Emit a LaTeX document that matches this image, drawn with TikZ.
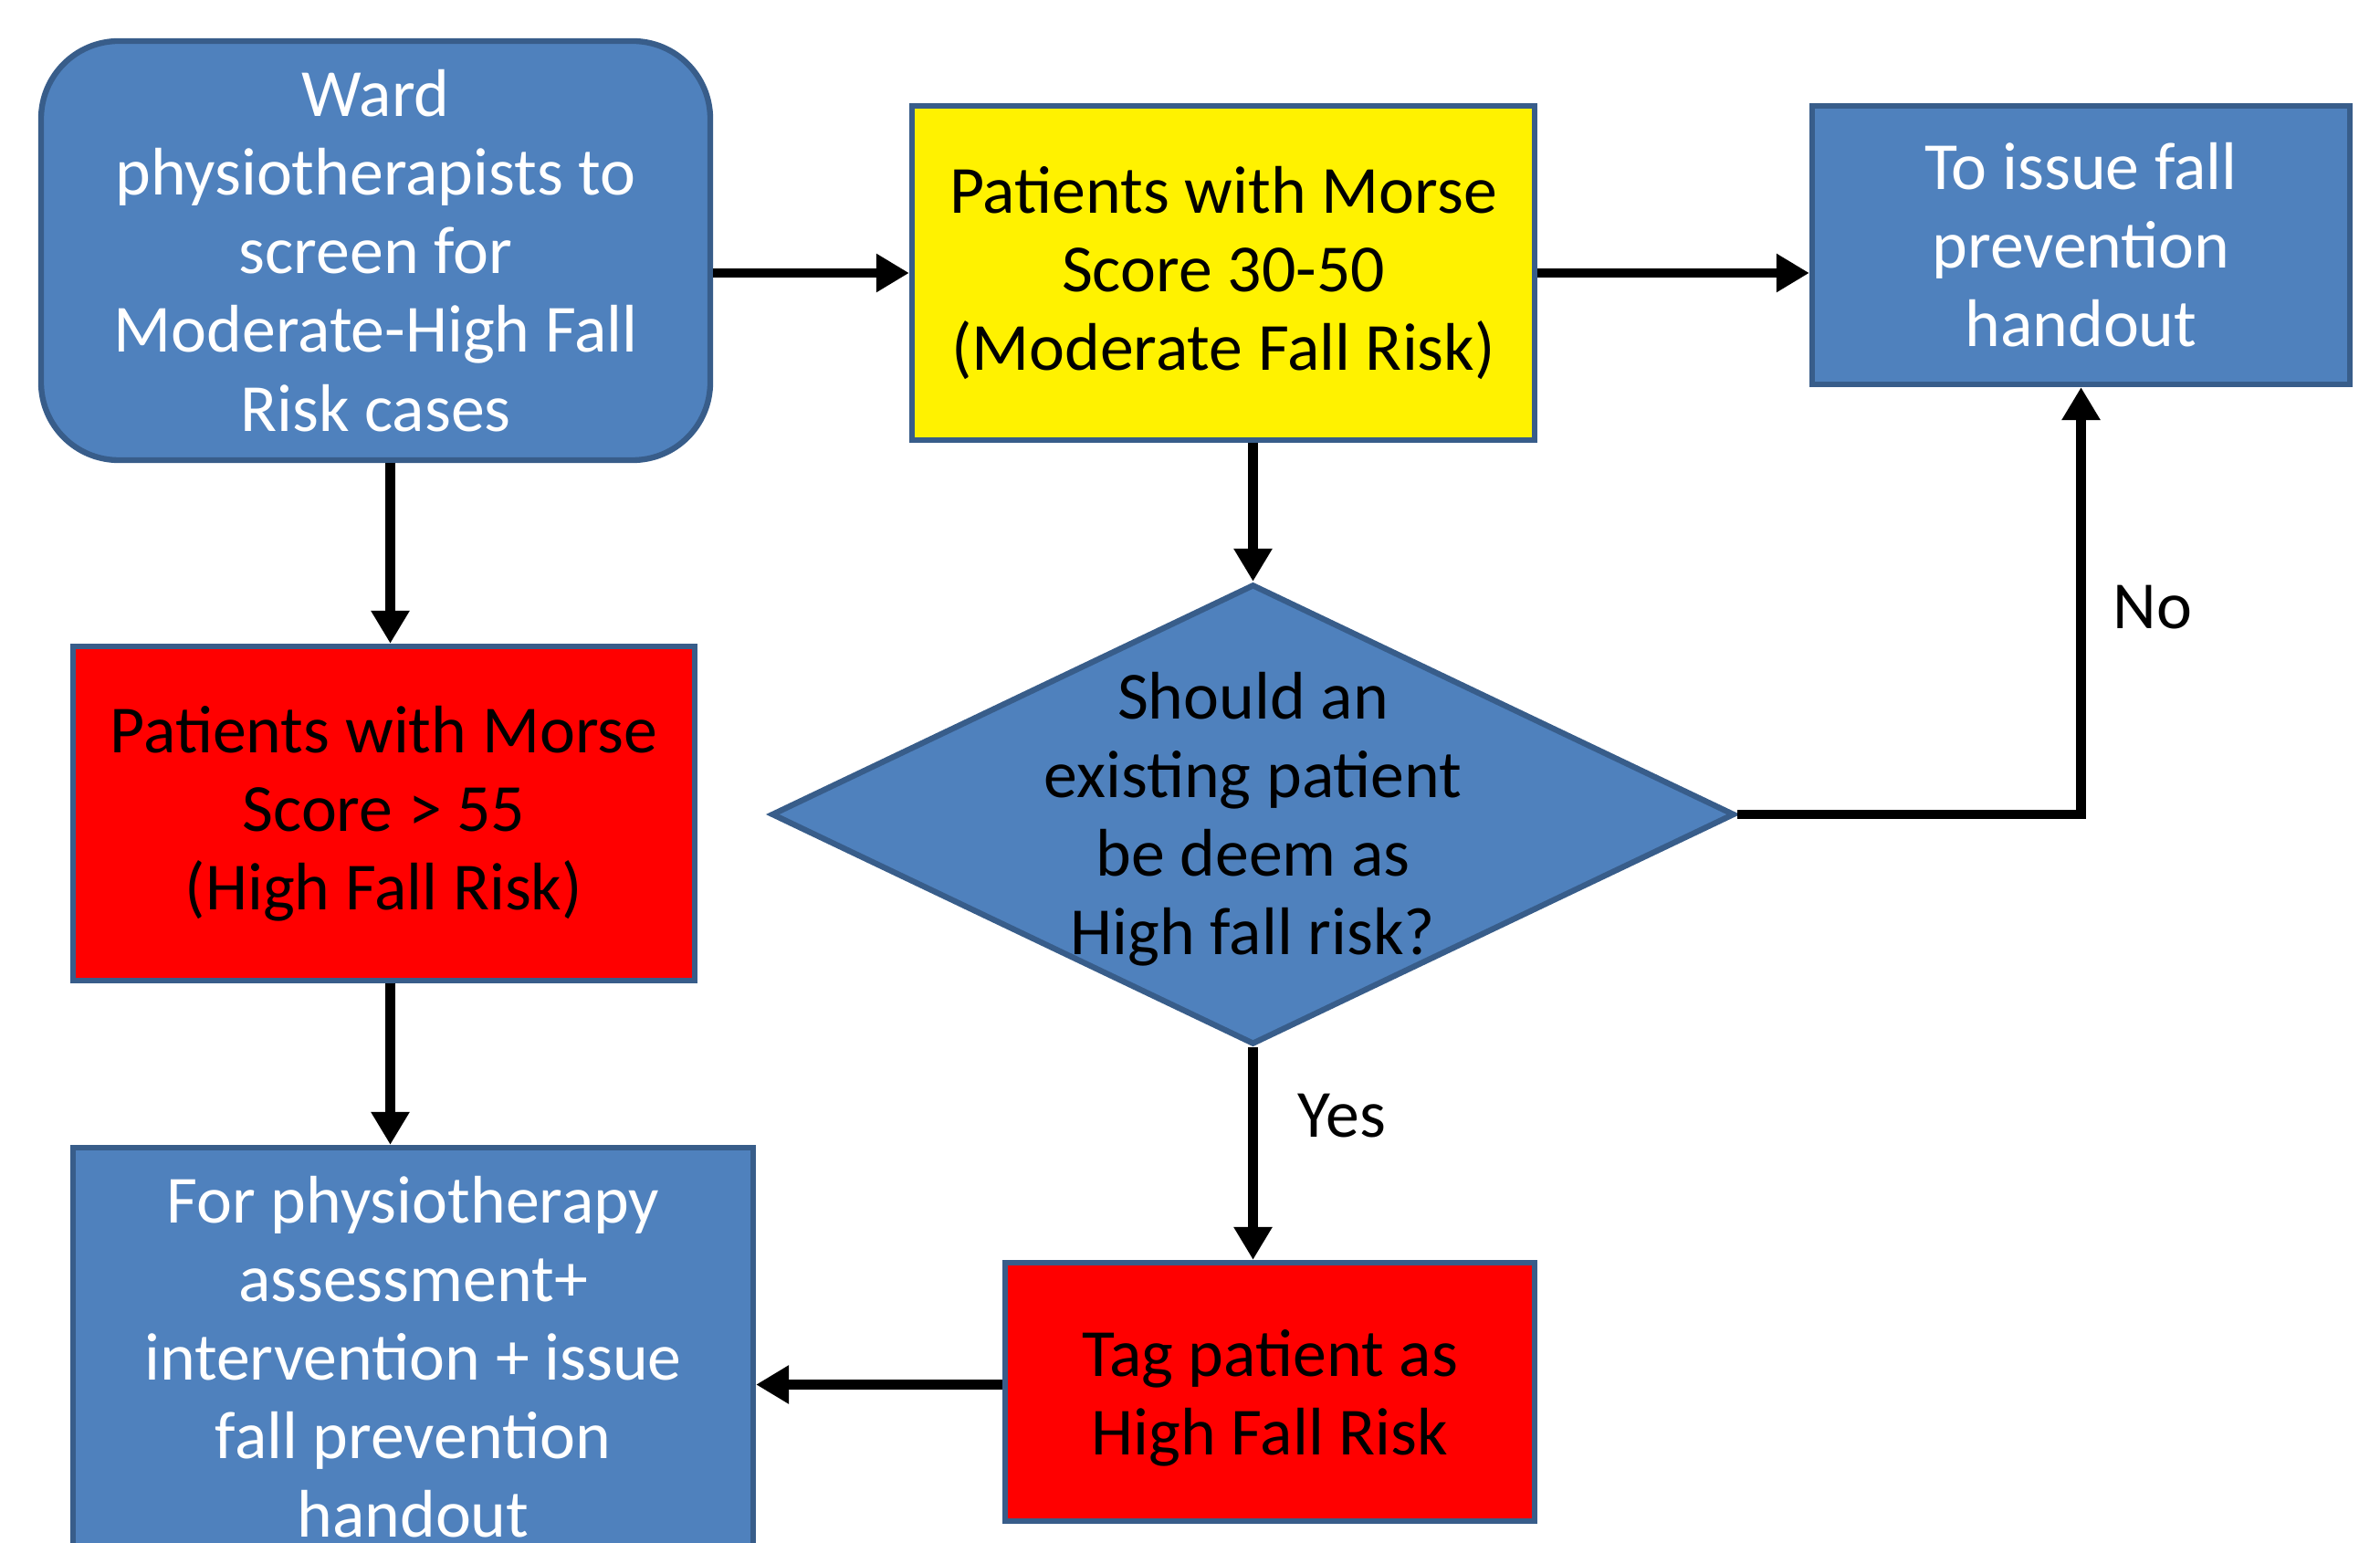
\documentclass[tikz,border=0pt]{standalone}
\usepackage{fontspec}
\setmainfont{Carlito}
\usetikzlibrary{arrows.meta,shapes.geometric}
\definecolor{officeblue}{HTML}{4F81BD}
\definecolor{officeedge}{HTML}{385D8A}
\tikzset{
every picture/.style={line width=3pt},
box/.style={draw=officeedge, line width=1.8pt, fill=officeblue, align=center, inner sep=0pt,
  font=\fontsize{21}{24.5}\selectfont},
flow/.style={-{Triangle[length=0.36cm,width=0.40cm]}},
lbl/.style={font=\fontsize{21}{24.5}\selectfont}
}

\begin{document}
\begin{tikzpicture}
    \useasboundingbox (0,0) rectangle (26.07,-16.90);
    \node[box, rounded corners=0.85cm, text=white, minimum width=7.33cm, minimum height=4.59cm] (ward) at (4.115,-2.745)
      {Ward\\physiotherapists to\\screen for\\Moderate-High Fall\\Risk cases};
    \node[box, fill=yellow, minimum width=6.82cm, minimum height=3.66cm] (moderate) at (13.40,-2.99)
      {Patients with Morse\\Score 30-50\\(Moderate Fall Risk)};
    \node[box, text=white, minimum width=5.89cm, minimum height=3.05cm] (handout) at (22.795,-2.685)
      {To issue fall\\prevention\\handout};
    \node[box, fill=red, minimum width=6.81cm, minimum height=3.66cm] (high) at (4.205,-8.91)
      {Patients with Morse\\Score > 55\\(High Fall Risk)};
    \node[box, shape=diamond, minimum width=10.55cm, minimum height=5.04cm] (decision) at (13.725,-8.92) {};
    \node[lbl, align=center] (question) at ([yshift=-0.05cm]decision.center) {Should an\\existing patient\\be deem as\\High fall risk?};
    \node[box, fill=red, minimum width=5.80cm, minimum height=2.83cm] (tag) at (13.91,-15.245) {};
    \node[lbl, align=center] (tagtext) at ([yshift=-0.07cm]tag.center) {Tag patient as\\High Fall Risk};
    \node[box, text=white, minimum width=7.45cm, minimum height=4.58cm] (physio) at (4.525,-14.86)
      {For physiotherapy\\assessment+\\intervention + issue\\fall prevention\\handout};

    \draw[flow] (ward.east |- moderate.west) -- (moderate.west);
    \draw[flow] (moderate.east) -- (moderate.east -| handout.west);
    \draw[flow] ([xshift=0.07cm]high.north |- ward.south) -- ([xshift=0.07cm]high.north);
    \draw[flow] ([xshift=0.07cm]high.south) -- ([xshift=0.07cm]high.south |- physio.north);
    \draw[flow] (decision.north |- moderate.south) -- (decision.north);
    \draw[flow] (decision.south) -- (decision.south |- tag.north);
    \draw[flow] (decision.east) -| (handout.south);
    \draw[flow] ([yshift=0.08cm]tag.west) -- ([yshift=0.08cm]tag.west -| physio.east);
    \node[lbl] (yes) at (14.70,-12.22) {Yes};
    \node[lbl] (no) at (23.58,-6.65) {No};
\end{tikzpicture}
\end{document}
